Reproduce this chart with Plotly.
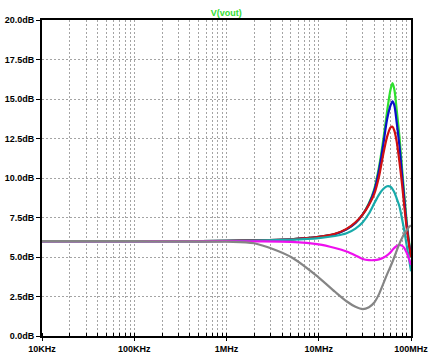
import plotly.graph_objects as go

# Frequencies (Hz) and gain (dB)
freq_common = [1e4, 1e5, 3e5, 1e6, 2e6, 5e6, 1e7, 1.5e7, 2e7, 2.5e7, 3e7, 3.5e7, 4e7, 4.5e7,
               5e7, 5.5e7, 6e7, 6.3e7, 6.6e7, 7e7, 7.5e7, 8e7, 8.5e7, 9e7, 9.5e7, 1e8]

green = [6.0, 6.0, 6.0, 6.02, 6.05, 6.12, 6.27, 6.45, 6.75, 7.15, 7.7, 8.4, 9.3, 10.7,
         12.4, 14.2, 15.6, 16.0, 15.6, 14.3, 12.6, 10.6, 8.8, 7.2, 6.0, 5.0]
blue = [6.0, 6.0, 6.0, 6.02, 6.05, 6.12, 6.27, 6.45, 6.75, 7.15, 7.7, 8.35, 9.2, 10.5,
        12.1, 13.7, 14.6, 14.85, 14.6, 13.5, 12.0, 10.2, 8.5, 7.0, 5.9, 5.0]
red = [6.0, 6.0, 6.0, 6.02, 6.05, 6.12, 6.27, 6.47, 6.78, 7.2, 7.7, 8.3, 9.0, 10.1,
       11.5, 12.6, 13.2, 13.25, 13.0, 12.3, 11.0, 9.6, 8.1, 6.8, 5.8, 5.0]
teal = [6.0, 6.0, 6.0, 6.02, 6.04, 6.1, 6.2, 6.33, 6.5, 6.8, 7.2, 7.75, 8.4, 8.95,
        9.3, 9.48, 9.45, 9.3, 9.1, 8.7, 8.2, 7.4, 6.6, 5.7, 4.9, 4.1]
magenta = [6.0, 6.0, 6.0, 6.0, 5.99, 5.96, 5.8, 5.57, 5.35, 5.1, 4.87, 4.8, 4.8, 4.85,
           4.95, 5.1, 5.3, 5.45, 5.58, 5.7, 5.76, 5.72, 5.55, 5.25, 4.9, 4.5]
gray = [6.0, 6.0, 5.99, 5.97, 5.87, 5.0, 3.7, 2.8, 2.2, 1.85, 1.7, 1.82, 2.12, 2.65,
        3.3, 3.9, 4.4, 4.7, 5.0, 5.4, 5.85, 6.2, 6.5, 6.7, 6.9, 7.0]

series = [
    ("green", green, "#2ee02e"),
    ("blue", blue, "#0a10c8"),
    ("red", red, "#d01010"),
    ("teal", teal, "#18aaaa"),
    ("magenta", magenta, "#ee10ee"),
    ("gray", gray, "#858585"),
]

tick_vals = [1e4, 1e5, 1e6, 1e7, 1e8]
tick_text = ["10KHz", "100KHz", "1MHz", "10MHz", "100MHz"]
y_vals = [0, 2.5, 5, 7.5, 10, 12.5, 15, 17.5, 20]
y_text = ["0.0dB", "2.5dB", "5.0dB", "7.5dB", "10.0dB", "12.5dB", "15.0dB", "17.5dB", "20.0dB"]

GRID = "#a4a4a4"
GDASH = "2px,2px"

fig = go.Figure()
for name, vals, color in series:
    fig.add_trace(go.Scatter(x=freq_common, y=vals, mode="lines", name=name,
                             line=dict(color=color, width=2.2, shape="spline", smoothing=0.8),
                             showlegend=False, hoverinfo="skip"))

fig.update_layout(
    width=435, height=357,
    margin=dict(l=42, r=24, t=20, b=21, autoexpand=False),
    paper_bgcolor="white", plot_bgcolor="white",
    font=dict(family="Liberation Sans, Arial, sans-serif", size=9, color="black"),
    title=dict(text="V(vout)", x=0.52, xanchor="center", y=0.973, yanchor="top",
               font=dict(size=9, color="#33dd33", weight="bold")),
)
fig.update_xaxes(
    type="log", range=[4, 8], automargin=False,
    tickvals=tick_vals, ticktext=tick_text,
    tickfont=dict(size=9, weight="bold"), ticklabeloverflow="allow",
    ticks="outside", ticklen=3, tickcolor="black", tickwidth=1,
    showline=True, linewidth=2, linecolor="black", mirror=True,
    showgrid=True, gridcolor=GRID, griddash=GDASH, gridwidth=1,
    minor=dict(dtick="D1", showgrid=True, gridcolor=GRID, griddash=GDASH, gridwidth=1,
               ticks="inside", ticklen=3, tickcolor="black"),
    zeroline=False,
)
fig.update_yaxes(
    range=[0, 20], automargin=False,
    tickvals=y_vals, ticktext=y_text,
    tickfont=dict(size=9, weight="bold"), ticklabeloverflow="allow",
    ticks="outside", ticklen=4, tickcolor="black", tickwidth=1,
    showline=True, linewidth=2, linecolor="black", mirror=True,
    showgrid=True, gridcolor=GRID, griddash=GDASH, gridwidth=1,
    zeroline=False,
)

fig.write_html("out.html", config={"displayModeBar": False},
               post_script="document.body.style.margin='0';")
